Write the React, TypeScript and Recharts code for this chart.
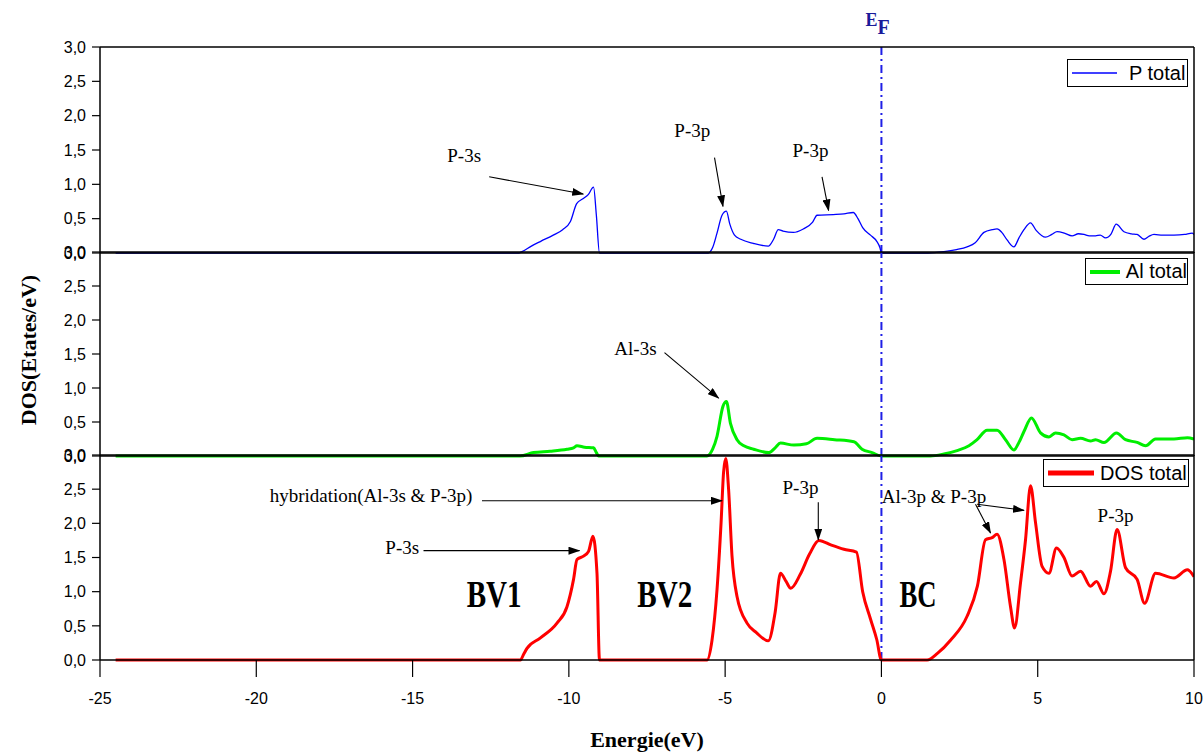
import { LineChart, Line, XAxis, YAxis, ReferenceLine, ReferenceDot, Legend } from 'recharts';

// P total (top panel)
const pE = [-24.5, -11.6, -11.5, -11.2, -10.9, -10.5, -10.2, -9.95, -9.75, -9.55, -9.38, -9.21, -9.12, -9.02,
  -5.54, -5.4, -5.26, -5.1, -4.96, -4.85, -4.7, -4.5, -4.1, -3.62, -3.45, -3.3, -3.15, -2.82, -2.5, -2.2, -2.06,
  -1.54, -1.2, -0.9, -0.75, -0.6, -0.35, -0.15, -0.05, 0,
  1.5, 2.0, 2.4, 2.74, 3.0, 3.28, 3.55, 3.7, 3.85, 4.02, 4.24, 4.4, 4.56, 4.77, 4.95, 5.25, 5.45, 5.62, 5.85,
  6.1, 6.3, 6.48, 6.65, 6.85, 7.0, 7.17, 7.35, 7.51, 7.76, 8.0, 8.18, 8.4, 8.55, 8.72, 9.0, 9.36, 9.7, 9.94, 10];
const pDos = [0, 0, 0.02, 0.1, 0.17, 0.26, 0.34, 0.46, 0.72, 0.79, 0.85, 0.96, 0.55, 0,
  0, 0.08, 0.29, 0.55, 0.61, 0.42, 0.26, 0.2, 0.14, 0.1, 0.2, 0.34, 0.32, 0.3, 0.35, 0.45, 0.55,
  0.56, 0.57, 0.59, 0.5, 0.37, 0.26, 0.17, 0.08, 0,
  0, 0.02, 0.05, 0.09, 0.15, 0.3, 0.34, 0.35, 0.3, 0.19, 0.09, 0.22, 0.34, 0.44, 0.33, 0.23, 0.27, 0.31, 0.29,
  0.25, 0.28, 0.27, 0.25, 0.25, 0.26, 0.22, 0.28, 0.42, 0.31, 0.28, 0.27, 0.2, 0.24, 0.27, 0.26, 0.26, 0.27, 0.29, 0.27];

// Al total (middle panel)
const alE = [-24.5, -11.56, -11.13, -10.6, -10.06, -9.85, -9.74, -9.5, -9.21, -9.12, -9.05,
  -5.58, -5.4, -5.26, -5.07, -4.96, -4.83, -4.62, -4.4, -4.09, -3.6, -3.4, -3.23, -2.8, -2.4, -2.06, -1.5, -0.88, -0.62, -0.3, 0,
  1.57, 2.0, 2.42, 2.8, 3.06, 3.38, 3.7, 3.97, 4.24, 4.4, 4.56, 4.8, 5.09, 5.36, 5.57, 5.84, 6.1, 6.37, 6.69, 6.85,
  7.12, 7.52, 7.81, 8.18, 8.45, 8.77, 9.36, 9.79, 10];
const alDos = [0, 0, 0.05, 0.07, 0.1, 0.12, 0.15, 0.13, 0.12, 0.05, 0,
  0, 0.1, 0.29, 0.73, 0.8, 0.48, 0.24, 0.15, 0.1, 0.05, 0.12, 0.19, 0.16, 0.18, 0.26, 0.24, 0.21, 0.1, 0.05, 0,
  0, 0.03, 0.08, 0.15, 0.24, 0.38, 0.38, 0.24, 0.09, 0.2, 0.36, 0.56, 0.34, 0.28, 0.34, 0.31, 0.24, 0.26, 0.22, 0.24,
  0.2, 0.34, 0.24, 0.2, 0.15, 0.25, 0.25, 0.27, 0.25];

// DOS total (bottom panel)
const totE = [-24.5, -11.55, -11.45, -11.34, -10.92, -10.38, -10.06, -9.85, -9.74, -9.53, -9.37, -9.23, -9.1, -9.02,
  -5.58, -5.42, -5.26, -5.13, -5.05, -4.98, -4.89, -4.78, -4.62, -4.3, -4.0, -3.62, -3.4, -3.23, -3.05, -2.9, -2.6,
  -2.3, -2.0, -1.6, -1.2, -0.8, -0.6, -0.35, -0.15, 0,
  1.46, 1.8, 2.21, 2.74, 3.07, 3.33, 3.54, 3.7, 3.92, 4.13, 4.26, 4.45, 4.61, 4.77, 4.93, 5.14, 5.36, 5.6, 5.84,
  6.1, 6.37, 6.69, 6.88, 7.12, 7.33, 7.54, 7.81, 8.18, 8.42, 8.77, 9.36, 9.79, 10];
const totDos = [0, 0, 0.08, 0.17, 0.32, 0.54, 0.78, 1.18, 1.47, 1.52, 1.59, 1.81, 1.27, 0,
  0, 0.29, 1.03, 2.01, 2.75, 2.95, 2.5, 1.52, 0.93, 0.54, 0.4, 0.28, 0.7, 1.27, 1.15, 1.05, 1.25,
  1.55, 1.75, 1.68, 1.62, 1.58, 1.0, 0.6, 0.3, 0,
  0, 0.1, 0.29, 0.64, 1.08, 1.76, 1.79, 1.84, 1.47, 0.78, 0.47, 1.13, 1.76, 2.55, 2.01, 1.37, 1.27, 1.64, 1.5,
  1.23, 1.3, 1.08, 1.15, 0.97, 1.3, 1.91, 1.35, 1.18, 0.83, 1.27, 1.2, 1.32, 1.22];

const xMajor = [-25, -20, -15, -10, -5, 0, 5, 10];
const xMinor = Array.from({ length: 71 }, (_, i) => -25 + i * 0.5);
const xInner = Array.from({ length: 15 }, (_, i) => -25 + i * 2.5);
const xTopFrame = [-25, -21.5, -18, -14.5, -11, -7.5, -4, -0.5, 3, 6.5, 10];
const yMajor = [0, 0.5, 1, 1.5, 2, 2.5, 3];
const yMinor = [0.25, 0.75, 1.25, 1.75, 2.25, 2.75];
const yRight = [0, 0.3, 0.6, 0.9, 1.2, 1.5, 1.8, 2.1, 2.4, 2.7, 3];

type Note = { text: string; x: number; y: number };
type Arrow = { x1: number; y1: number; x2: number; y2: number };

const topNotes: Note[] = [
  { text: 'P-3s', x: -13.35, y: 1.42 },
  { text: 'P-3p', x: -6.05, y: 1.79 },
  { text: 'P-3p', x: -2.27, y: 1.49 },
];
const topArrows: Arrow[] = [
  { x1: -12.55, y1: 1.11, x2: -9.54, y2: 0.86 },
  { x1: -5.34, y1: 1.39, x2: -5.07, y2: 0.68 },
  { x1: -1.9, y1: 1.11, x2: -1.69, y2: 0.62 },
];
const midNotes: Note[] = [{ text: 'Al-3s', x: -7.87, y: 1.58 }];
const midArrows: Arrow[] = [{ x1: -6.94, y1: 1.52, x2: -5.21, y2: 0.85 }];
const botNotes: Note[] = [
  { text: 'hybridation(Al-3s & P-3p)', x: -16.33, y: 2.41 },
  { text: 'P-3s', x: -15.33, y: 1.65 },
  { text: 'P-3p', x: -2.59, y: 2.53 },
  { text: 'Al-3p & P-3p', x: 1.68, y: 2.39 },
  { text: 'P-3p', x: 7.49, y: 2.11 },
];
const botArrows: Arrow[] = [
  { x1: -12.78, y1: 2.33, x2: -5.1, y2: 2.33 },
  { x1: -14.65, y1: 1.6, x2: -9.66, y2: 1.6 },
  { x1: -2.02, y1: 2.31, x2: -2.02, y2: 1.76 },
  { x1: 3.01, y1: 2.28, x2: 3.49, y2: 1.86 },
  { x1: 3.06, y1: 2.28, x2: 4.56, y2: 2.19 },
];
const bands: Note[] = [
  { text: 'BV1', x: -12.39, y: 0.97 },
  { text: 'BV2', x: -6.93, y: 0.97 },
  { text: 'BC', x: 1.17, y: 0.96 },
];

const W = 1204;
const SERIF = 'Liberation Serif, Times New Roman, serif';
const SANS = 'Liberation Sans, Arial, sans-serif';
const fmt = (v: number) => v.toFixed(1).replace('.', ',');

const noteLabel = (text: string) => (props: any) => {
  const vb = props.viewBox;
  return (
    <text x={vb.x + vb.width / 2} y={vb.y + vb.height / 2} textAnchor="middle" dominantBaseline="central"
      fontFamily={SERIF} fontSize={19} fill="#000">{text}</text>
  );
};

const bandLabel = (text: string) => (props: any) => {
  const vb = props.viewBox;
  return (
    <text x={vb.x + vb.width / 2} y={vb.y + vb.height / 2} textAnchor="middle" dominantBaseline="central"
      fontFamily={SERIF} fontWeight="bold" fontSize={38} fill="#000"
      textLength={text.length === 2 ? 37 : 55} lengthAdjust="spacingAndGlyphs">{text}</text>
  );
};

const EFLabel = (props: any) => {
  const vb = props.viewBox;
  return (
    <text x={vb.x - 16} y={vb.y - 21} fill="#1a1a9a" fontFamily={SERIF} fontWeight="bold" fontSize={18}>
      E<tspan fontSize={20} dy={8}>F</tspan>
    </text>
  );
};

const XTitle = (props: any) => {
  const vb = props.viewBox;
  return (
    <text x={vb.x + vb.width / 2} y={vb.y + 87} textAnchor="middle" fontFamily={SERIF} fontWeight="bold" fontSize={22} fill="#000">
      Energie(eV)
    </text>
  );
};

const YTitle = (props: any) => {
  const vb = props.viewBox;
  const x = vb.x + vb.width - 64;
  const y = vb.y + vb.height / 2 - 4;
  return (
    <text x={x} y={y} transform={`rotate(-90, ${x}, ${y})`} textAnchor="middle" fontFamily={SERIF} fontWeight="bold" fontSize={22} fill="#000">
      DOS(Etates/eV)
    </text>
  );
};

type LegendCfg = { left: number; top: number; width: number; height: number; sample: number; gap: number; lineW: number };

const legendContent = (name: string, color: string, cfg: LegendCfg) => () => (
  <div style={{
    width: cfg.width, height: cfg.height, boxSizing: 'border-box', border: '1px solid #000', background: '#fff',
    display: 'flex', alignItems: 'center', paddingLeft: 4, fontFamily: SANS, fontSize: 20, color: '#000', whiteSpace: 'nowrap',
  }}>
    <svg width={cfg.sample} height={10} style={{ marginRight: cfg.gap }}>
      <line x1={0} y1={5} x2={cfg.sample} y2={5} stroke={color} strokeWidth={cfg.lineW} />
    </svg>
    <span>{name}</span>
  </div>
);

interface PanelProps {
  id: string;
  top: number;
  height: number;
  mTop: number;
  mBottom: number;
  xs: number[];
  ys: number[];
  color: string;
  strokeWidth: number;
  name: string;
  legend: LegendCfg;
  notes: Note[];
  arrows: Arrow[];
  bandNotes?: Note[];
  topTicks: number[];
  bottom?: boolean;
  first?: boolean;
  yTitle?: boolean;
}

function Panel(p: PanelProps) {
  const data = p.xs.map((x, i) => ({ x, y: p.ys[i] }));
  const axisLine = { stroke: '#000', strokeWidth: 1.5 };
  const tickLine = { stroke: '#000', strokeWidth: 1.2 };
  const marker = `arrow-${p.id}`;
  // every axis below is 1px thick, so margins are reduced by the axes stacked on each side
  const mBottom = p.mBottom - (p.bottom ? 2 : 1);
  return (
    <div style={{ position: 'absolute', left: 0, top: p.top, width: W, height: p.height }}>
      <LineChart width={W} height={p.height} data={data} margin={{ top: p.mTop - 1, right: 10, bottom: mBottom, left: 98 }}>
        <defs>
          <marker id={marker} markerWidth={12} markerHeight={8} refX={11} refY={4} orient="auto" markerUnits="userSpaceOnUse">
            <path d="M0,0 L12,4 L0,8 z" fill="#000" />
          </marker>
        </defs>
        <XAxis type="number" dataKey="x" domain={[-25, 10]} allowDataOverflow
          ticks={p.bottom ? xMajor : [-25]} interval={0}
          tick={p.bottom ? { fill: '#000', fontSize: 16, fontFamily: SANS } : false}
          tickSize={p.bottom ? 17 : 0} tickMargin={16} tickFormatter={(v: number) => String(v)}
          tickLine={p.bottom ? tickLine : false} axisLine={axisLine} height={1}
          label={p.bottom ? { content: XTitle } : undefined} />
        {p.bottom && (
          <XAxis xAxisId="minor" type="number" dataKey="x" domain={[-25, 10]} ticks={xMinor} interval={0} tick={false}
            tickSize={7} tickLine={tickLine} axisLine={false} height={1} allowDataOverflow />
        )}
        <XAxis xAxisId="top" orientation="top" type="number" dataKey="x" domain={[-25, 10]} allowDataOverflow
          ticks={p.topTicks} interval={0} tick={false} mirror tickSize={p.first ? 4 : 5} tickLine={tickLine}
          axisLine={axisLine} height={1} />
        <YAxis type="number" domain={[0, 3]} ticks={yMajor} interval={0} width={1} tickSize={8} tickMargin={6}
          tick={{ fill: '#000', fontSize: 16, fontFamily: SANS }} tickFormatter={fmt}
          tickLine={tickLine} axisLine={axisLine}
          label={p.yTitle ? { content: YTitle } : undefined} />
        <YAxis yAxisId="minor" type="number" domain={[0, 3]} ticks={yMinor} interval={0} tick={false} tickSize={4}
          tickLine={tickLine} axisLine={false} width={1} />
        <YAxis yAxisId="right" orientation="right" type="number" domain={[0, 3]} ticks={yRight} interval={0}
          tick={false} mirror tickSize={4} tickLine={tickLine} axisLine={axisLine} width={1} />
        <ReferenceLine x={0} stroke="#1f1fe6" strokeWidth={2} strokeDasharray="8 4 2 4"
          label={p.first ? { content: EFLabel } : undefined} />
        <Line type="monotone" dataKey="y" name={p.name} stroke={p.color} strokeWidth={p.strokeWidth}
          dot={false} activeDot={false} isAnimationActive={false} />
        {p.arrows.map((a, i) => (
          <ReferenceLine key={`a${i}`} segment={[{ x: a.x1, y: a.y1 }, { x: a.x2, y: a.y2 }]}
            stroke="#000" strokeWidth={1.1} markerEnd={`url(#${marker})`} />
        ))}
        {p.notes.map((n, i) => (
          <ReferenceDot key={`n${i}`} x={n.x} y={n.y} r={1} fillOpacity={0} strokeOpacity={0}
            label={{ content: noteLabel(n.text) }} />
        ))}
        {(p.bandNotes || []).map((n, i) => (
          <ReferenceDot key={`b${i}`} x={n.x} y={n.y} r={1} fillOpacity={0} strokeOpacity={0}
            label={{ content: bandLabel(n.text) }} />
        ))}
        <Legend layout="vertical" align="center" verticalAlign="middle"
          content={legendContent(p.name, p.color, p.legend)}
          wrapperStyle={{ left: p.legend.left, top: p.legend.top, width: p.legend.width, height: p.legend.height }} />
      </LineChart>
    </div>
  );
}

export default function App() {
  return (
    <div style={{ position: 'absolute', left: 0, top: 0, width: W, height: 755, background: '#fff', overflow: 'hidden' }}>
      <Panel id="p" top={0} height={263} mTop={48} mBottom={10} xs={pE} ys={pDos} color="#0000ff" strokeWidth={1.3}
        name="P total" legend={{ left: 1067, top: 59, width: 121, height: 28, sample: 45, gap: 12, lineW: 1.3 }}
        notes={topNotes} arrows={topArrows} topTicks={xTopFrame} first />
      <Panel id="al" top={233} height={233} mTop={20} mBottom={10} xs={alE} ys={alDos} color="#00ee00" strokeWidth={3}
        name="Al total" legend={{ left: 1085, top: 25, width: 103, height: 27, sample: 34, gap: 6, lineW: 4 }}
        notes={midNotes} arrows={midArrows} topTicks={xInner} yTitle />
      <Panel id="tot" top={436} height={319} mTop={20} mBottom={95} xs={totE} ys={totDos} color="#ff0000" strokeWidth={3}
        name="DOS total" legend={{ left: 1043, top: 23, width: 146, height: 28, sample: 46, gap: 6, lineW: 5 }}
        notes={botNotes} arrows={botArrows} bandNotes={bands} topTicks={xInner} bottom />
    </div>
  );
}
